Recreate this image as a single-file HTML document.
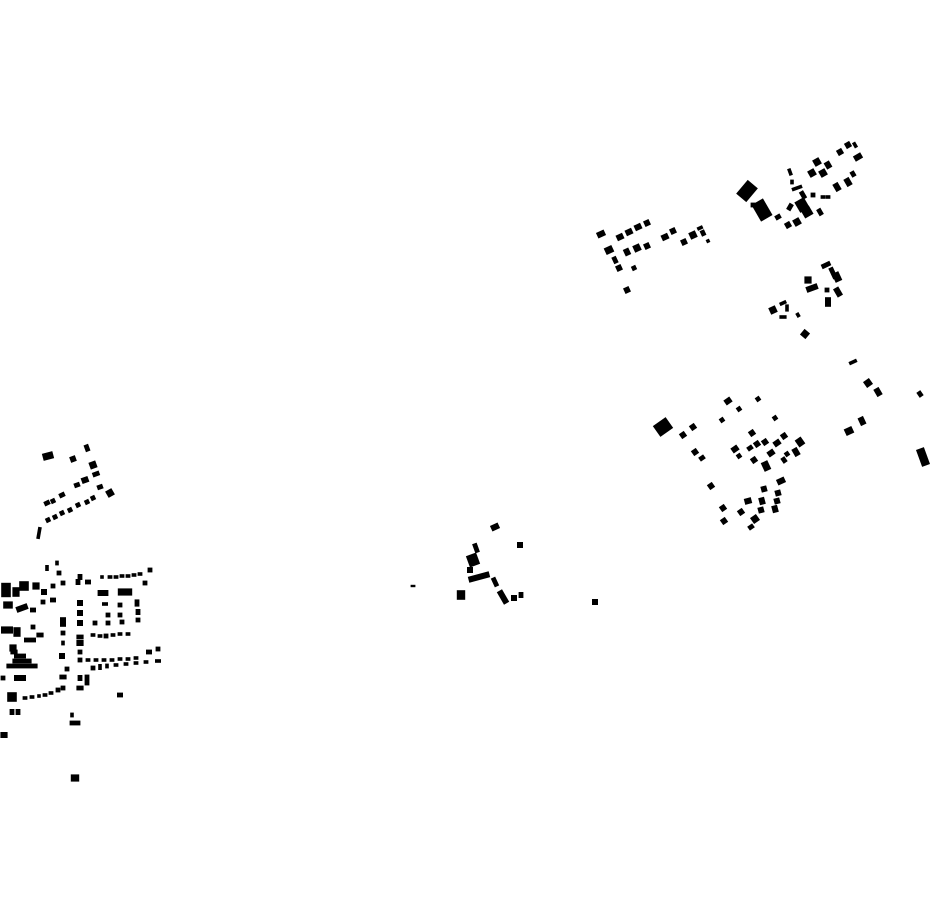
<!DOCTYPE html>
<html><head><meta charset="utf-8"><style>html,body{margin:0;padding:0;background:#fff;}svg{display:block}</style></head>
<body>
<svg id="s" width="930" height="924" viewBox="0 0 930 924" xmlns="http://www.w3.org/2000/svg"><g id="g" fill="#000"></g></svg>
<script>
var B=[
[48,456,9,6,-15],[73,459,5,5,-20],[87,448,4,6,-20],[93,465,6,6,-20],[96,474,6,4,-20],[77,485,5,4,-20],[85,480,6,5,-20],[100,487,5,4,-20],[110,493,6,6,-30],
[47,503,5,4,-25],[53,501,4,4,-25],[62,495,5,4,-25],[48,520,4,4,-25],[55,517,4,4,-25],[62,513,4,4,-25],[70,510,4,4,-25],[78,505,4,4,-25],[87,502,4,4,-25],[93,498,4,4,-25],[39,533,3,10,10],
[47,568,3,5,0],[57,563,3,4,0],[59,573,4,4,0],[80,577,4,5,0],[102,577,3,3,0],[110,577,4,3,0],[116,577,4,3,0],[122,576,4,3,0],[128,576,4,3,0],[134,575,4,3,0],[140,574,4,3,0],[150,570,4,4,0],
[6,590,8,12,0],[16,592,6,8,0],[24,586,8,8,0],[36,586,6,6,0],[44,592,5,5,0],[53,586,4,4,0],[63,583,4,4,0],[78,582,4,5,0],[88,582,5,4,0],[103,593,9,5,0],[125,592,12,6,0],[145,583,4,4,0],
[80,603,5,5,0],[105,604,5,3,0],[120,605,4,4,0],[137,603,4,6,0],[43,602,4,4,0],[53,600,5,4,0],[8,605,8,6,0],[22,608,10,5,-20],[33,610,5,4,0],
[80,613,5,5,0],[108,615,4,4,0],[120,615,4,4,0],[138,612,4,5,0],[63,622,5,8,0],[80,623,5,5,0],[95,623,4,4,0],[108,623,4,4,0],[122,622,4,4,0],[138,620,4,4,0],
[7,630,10,6,0],[17,632,6,8,0],[33,627,4,4,0],[40,635,6,4,0],[30,640,10,4,0],
[63,633,4,4,0],[80,637,6,4,0],[93,635,4,3,0],[100,636,4,3,0],[106,636,4,4,0],[113,635,4,3,0],[120,634,4,3,0],[128,634,4,3,0],
[63,643,3,4,0],[80,643,6,5,0],[80,652,4,4,0],[62,656,5,5,0],[13,648,6,6,0],
[80,660,4,4,0],[88,660,4,3,0],[96,660,4,3,0],[104,660,4,3,0],[112,660,4,3,0],[120,659,4,3,0],[128,659,4,3,0],[136,658,4,3,0],[149,652,5,4,0],[158,649,4,4,0],
[20,656,10,4,0],[22,661,16,4,0],[22,666,26,4,0],[14,652,6,4,0],
[93,668,4,4,0],[100,667,3,5,0],[107,666,3,4,0],[116,665,4,3,0],[126,664,4,3,0],[136,663,4,3,0],[146,662,4,3,0],[158,661,5,3,0],
[67,669,4,4,0],[3,678,4,4,0],[20,678,10,5,0],[63,677,6,4,0],[80,678,4,5,0],[87,680,4,9,0],[80,688,6,4,0],[63,688,4,4,0],
[12,697,8,8,0],[25,698,4,3,0],[32,697,4,3,0],[39,696,3,3,0],[45,695,4,3,0],[51,693,4,3,0],[58,690,4,4,0],
[12,712,4,5,0],[18,712,4,5,0],[72,715,3,4,0],[75,723,9,4,0],[120,695,5,4,0],[4,735,6,5,0],[75,778,7,6,0],
[601,234,7,5,-25],[620,237,6,5,-25],[629,232,6,5,-25],[638,227,6,5,-25],[647,223,5,5,-25],[609,250,7,6,-25],[627,252,5,6,-25],[637,248,6,6,-25],[647,246,5,5,-25],[615,260,4,6,-25],[619,268,5,5,-25],[634,268,4,4,-25],[627,290,5,5,-25],
[665,237,6,5,-25],[673,231,5,5,-25],[684,242,5,5,-25],[693,235,6,6,-25],[700,228,5,3,-25],[703,233,4,5,-25],[708,241,3,3,-25],
[747,191,11,15,40],[762,210,11,16,-30],[753,205,4,4,0],[790,172,3,6,-20],[792,182,3,4,0],[797,188,9,3,-20],[790,207,4,6,30],[802,205,9,10,-30],[807,212,8,8,-30],[797,222,6,6,-30],[788,225,5,5,-30],[778,217,5,4,-30],[803,195,4,7,-30],[813,195,4,4,0],[820,212,4,6,-30],[823,197,4,3,0],[828,197,4,3,0],
[817,162,6,6,-30],[828,165,5,6,-30],[812,173,6,6,-30],[823,173,6,6,-30],[837,187,5,7,-30],[848,182,5,7,-30],[853,174,4,5,-30],[840,152,5,5,-30],[848,145,5,5,-30],[855,145,3,5,-30],[858,157,7,5,-30],
[826,265,8,4,-25],[833,273,4,10,-25],[808,280,6,6,0],[812,288,10,5,-20],[837,277,6,8,-25],[838,292,5,8,-30],[828,302,5,8,0],[827,290,4,4,0],[773,310,6,6,-25],[783,303,6,3,-25],[787,308,3,6,0],[783,317,6,3,0],[798,315,3,4,-30],[805,334,6,6,40],
[663,427,13,11,-35],[683,435,5,5,-35],[693,427,5,5,-35],[695,452,5,5,-35],[702,458,5,4,-35],[728,401,6,5,-35],[739,409,4,4,-35],[758,399,4,4,-35],[722,420,4,4,-35],[775,418,4,4,-35],[752,433,5,5,-35],[735,449,6,5,-35],[739,456,4,4,-35],[750,448,5,4,-35],[757,444,5,5,-35],[765,442,5,5,-35],[777,443,6,5,-35],[784,436,5,5,-35],[800,442,6,7,-35],[754,460,5,5,-35],[766,466,6,8,-25],[771,453,6,5,-35],[784,460,4,5,-35],[787,454,4,4,-35],[796,452,5,7,-30],
[711,486,5,5,-35],[781,481,7,5,-25],[764,489,5,5,-15],[778,493,5,5,-15],[748,501,6,5,-15],[762,501,5,6,-15],[777,501,5,5,-15],[723,508,5,5,-35],[741,512,5,5,-35],[761,510,5,5,-15],[775,509,5,6,-15],[755,519,6,6,-35],[724,521,5,5,-35],[751,527,5,4,-35],
[853,362,7,3,-25],[868,383,6,6,-35],[878,392,5,7,-30],[920,394,4,5,-35],[862,421,5,7,-25],[849,431,7,6,-25],[923,457,7,15,-20],
[495,527,7,5,-25],[476,548,4,8,-20],[473,560,9,10,-20],[470,570,5,5,0],[479,577,18,5,-15],[495,582,4,8,-25],[503,597,5,12,-30],[514,598,5,5,0],[521,595,4,5,0],[520,545,5,5,0],[461,595,7,8,0],[413,586,4,2,0],[595,602,5,5,0]
];
var g=document.getElementById('g'),h='',k=1.2;
B.forEach(function(b){var w=b[2]*k,hh=b[3]*k;h+='<rect x="'+(b[0]-w/2)+'" y="'+(b[1]-hh/2)+'" width="'+w+'" height="'+hh+'" transform="rotate('+b[4]+' '+b[0]+' '+b[1]+')"/>';});
g.innerHTML=h;
</script>
</body></html>
